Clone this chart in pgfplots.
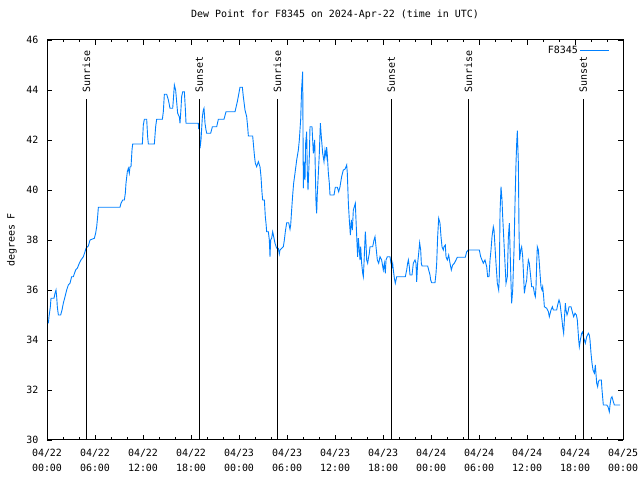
\documentclass[border=0pt]{standalone}
\usepackage{fontspec}
\setmainfont{DejaVu Sans Mono}
\usepackage{pgfplots}
\pgfplotsset{compat=1.18}
\definecolor{dpblue}{RGB}{0,128,255}
\begin{document}
\begin{tikzpicture}[x=1bp,y=1bp]
\path[use as bounding box] (0,0) rectangle (640,480);
\begin{axis}[
  at={(47bp,40bp)}, anchor=south west,
  scale only axis, width=576bp, height=400bp,
  xmin=0, xmax=72, ymin=30, ymax=46,
  xtick={0,6,...,72},
  minor xtick={2,4,8,10,14,16,20,22,26,28,32,34,38,40,44,46,50,52,56,58,62,64,68,70},
  xticklabels={{04/22\\00:00},{04/22\\06:00},{04/22\\12:00},{04/22\\18:00},{04/23\\00:00},{04/23\\06:00},{04/23\\12:00},{04/23\\18:00},{04/24\\00:00},{04/24\\06:00},{04/24\\12:00},{04/24\\18:00},{04/25\\00:00}},
  ytick={30,32,...,46},
  /pgf/number format/assume math mode=true,
  tick label style={font=\fontsize{10}{15}\selectfont},
  xticklabel style={align=center, yshift=-6bp},
  yticklabel style={xshift=-5bp},
  major tick length=5bp, minor tick length=2.5bp,
  tick style={black, line width=0.8bp},
  axis line style={black, line width=1bp},
  ylabel={degrees F},
  ylabel style={at={(axis description cs:-0.0608,0.5)}, anchor=center, font=\fontsize{10}{12}\selectfont},
  title={Dew Point for F8345 on 2024-Apr-22 (time in UTC)},
  title style={at={(axis description cs:0.5,1)}, anchor=base, yshift=17bp, font=\fontsize{10}{12}\selectfont},
  legend plot pos=right,
  legend style={draw=none, fill=none, at={(axis description cs:1,1)}, anchor=north east, xshift=-10bp, yshift=-2bp, font=\fontsize{10}{12}\selectfont},
  legend image code/.code={\draw[#1] (0bp,0bp) -- (29bp,0bp);},
  clip=false,
]
\addplot[dpblue, line width=0.9bp] coordinates {
(0.17,34.67) (0.25,34.93) (0.42,35.33) (0.5,35.67) (0.875,35.67) (1.0,35.87) (1.125,36.0) (1.21,35.73) (1.29,35.33) (1.42,35.0) (1.71,35.0) (1.875,35.2) (2.04,35.47) (2.25,35.73) (2.46,36.0) (2.67,36.2) (2.875,36.27) (3.08,36.53) (3.29,36.53) (3.58,36.8) (3.79,36.87) (4.04,37.07) (4.25,37.2) (4.54,37.33) (4.75,37.53) (4.875,37.67) (5.17,37.76) (5.375,38.0) (5.92,38.07) (6.08,38.27) (6.21,38.53) (6.33,38.93) (6.42,39.31) (9.125,39.31) (9.25,39.47) (9.46,39.6) (9.67,39.6) (9.79,39.87) (9.875,40.27) (10.04,40.73) (10.17,40.87) (10.29,40.67) (10.375,40.93) (10.5,40.93) (10.625,41.6) (10.71,41.84) (11.92,41.84) (12.04,42.6) (12.17,42.83) (12.46,42.83) (12.58,42.13) (12.67,41.84) (13.42,41.84) (13.58,42.53) (13.71,42.83) (14.42,42.83) (14.54,43.13) (14.67,43.83) (14.96,43.83) (15.17,43.6) (15.375,43.27) (15.71,43.27) (15.79,43.6) (15.92,44.2) (16.08,44.0) (16.33,43.07) (16.54,42.93) (16.625,42.67) (16.75,43.27) (16.83,43.73) (16.96,43.93) (17.17,43.93) (17.29,43.27) (17.375,42.67) (18.92,42.67) (18.96,42.44) (19.04,42.67) (19.125,41.67) (19.25,42.0) (19.42,42.93) (19.54,43.2) (19.625,43.27) (19.75,42.67) (19.875,42.4) (19.96,42.27) (20.46,42.27) (20.67,42.53) (21.21,42.53) (21.42,42.83) (22.125,42.83) (22.375,43.13) (23.5,43.13) (23.79,43.53) (24.125,44.11) (24.42,44.11) (24.54,43.73) (24.75,43.2) (24.96,42.93) (25.08,42.53) (25.17,42.16) (25.71,42.16) (25.79,41.87) (25.92,41.4) (26.04,41.07) (26.21,40.93) (26.42,41.13) (26.625,40.93) (26.75,40.53) (26.875,39.89) (26.96,39.6) (27.17,39.6) (27.29,38.93) (27.375,38.67) (27.46,38.33) (27.67,38.33) (27.79,38.0) (27.875,37.33) (27.96,38.0) (28.08,38.07) (28.21,38.33) (28.375,38.07) (28.5,37.87) (28.71,37.67) (28.92,37.67) (29.04,37.44) (29.125,37.6) (29.33,37.67) (29.54,37.73) (29.67,38.0) (29.79,38.33) (29.96,38.69) (30.21,38.69) (30.375,38.43) (30.46,38.6) (30.58,39.2) (30.71,39.8) (30.83,40.27) (31.0,40.67) (31.21,41.2) (31.42,41.6) (31.54,42.0) (31.71,42.83) (31.83,44.07) (31.96,44.73) (32.04,40.07) (32.125,41.13) (32.25,40.4) (32.33,41.87) (32.46,42.33) (32.54,40.67) (32.625,40.0) (32.79,41.33) (32.875,42.53) (33.125,42.53) (33.29,41.47) (33.46,42.0) (33.625,39.47) (33.71,39.07) (33.79,39.87) (33.92,40.67) (34.04,41.47) (34.17,42.67) (34.29,42.13) (34.46,41.47) (34.625,41.13) (34.75,41.6) (34.875,41.33) (34.96,41.71) (35.04,41.4) (35.17,40.67) (35.29,40.27) (35.375,39.8) (35.875,39.8) (36.04,40.11) (36.29,40.11) (36.46,39.93) (36.625,40.13) (36.83,40.53) (37.04,40.8) (37.25,40.83) (37.46,41.0) (37.54,40.67) (37.67,39.47) (37.79,38.8) (37.92,38.2) (38.04,38.8) (38.17,38.4) (38.29,39.2) (38.42,39.33) (38.54,39.47) (38.625,38.8) (38.75,37.87) (38.83,37.33) (38.92,38.07) (39.04,37.6) (39.125,37.2) (39.21,37.73) (39.33,37.07) (39.46,36.67) (39.54,36.53) (39.625,37.07) (39.71,37.73) (39.79,38.33) (39.875,37.87) (39.96,37.2) (40.08,37.07) (40.21,37.33) (40.29,37.47) (40.375,37.73) (40.71,37.73) (40.875,38.0) (41.0,38.13) (41.125,37.73) (41.29,37.2) (41.46,37.07) (41.625,37.33) (41.83,37.2) (42.04,36.8) (42.17,37.07) (42.29,36.67) (42.375,37.2) (42.54,37.33) (42.875,37.33) (43.0,37.07) (43.125,36.93) (43.21,37.07) (43.29,36.8) (43.42,36.47) (43.54,36.27) (43.71,36.53) (44.79,36.53) (44.96,36.8) (45.08,37.07) (45.17,37.2) (45.29,36.93) (45.375,36.6) (45.625,36.6) (45.79,37.07) (46.0,37.2) (46.125,37.07) (46.21,36.33) (46.33,37.07) (46.46,37.47) (46.58,37.89) (46.71,37.6) (46.79,37.07) (46.875,36.96) (47.58,36.96) (47.71,36.8) (47.875,36.6) (47.96,36.4) (48.08,36.29) (48.5,36.29) (48.625,36.67) (48.71,37.07) (48.83,38.13) (48.96,38.87) (49.125,38.67) (49.25,38.13) (49.375,37.73) (49.54,37.6) (49.625,37.73) (49.79,37.8) (49.875,37.33) (50.04,37.2) (50.21,37.4) (50.375,37.07) (50.54,36.8) (50.71,37.0) (50.92,37.07) (51.125,37.2) (51.29,37.31) (52.29,37.31) (52.46,37.53) (52.67,37.6) (54.04,37.6) (54.21,37.33) (54.375,37.2) (54.54,37.07) (54.75,37.2) (54.96,36.93) (55.08,36.53) (55.25,36.53) (55.375,37.2) (55.5,37.6) (55.625,38.13) (55.79,38.53) (55.875,38.4) (56.0,37.73) (56.125,37.07) (56.29,36.27) (56.46,36.0) (56.54,36.53) (56.625,39.07) (56.75,40.13) (56.875,39.6) (56.96,38.93) (57.125,37.87) (57.25,37.07) (57.375,36.27) (57.54,36.53) (57.67,38.13) (57.79,38.67) (57.875,37.73) (58.0,36.27) (58.08,35.47) (58.21,36.0) (58.29,36.8) (58.375,37.6) (58.5,39.47) (58.625,41.07) (58.71,41.87) (58.79,42.37) (58.92,41.07) (59.0,38.4) (59.08,37.2) (59.21,37.6) (59.33,37.73) (59.46,37.33) (59.58,36.53) (59.67,35.87) (59.79,36.13) (59.96,36.4) (60.04,36.8) (60.17,37.2) (60.29,37.07) (60.46,36.53) (60.58,36.13) (60.79,36.13) (60.92,35.87) (61.04,35.73) (61.125,36.13) (61.21,37.07) (61.29,37.73) (61.42,37.6) (61.54,37.07) (61.625,36.67) (61.75,36.13) (61.875,36.0) (61.96,36.13) (62.08,35.73) (62.17,35.33) (62.46,35.27) (62.67,35.13) (62.79,34.93) (63.0,35.2) (63.17,35.33) (63.29,35.2) (63.71,35.2) (63.83,35.4) (64.0,35.6) (64.125,35.47) (64.25,35.13) (64.375,34.8) (64.46,34.53) (64.58,34.27) (64.67,34.8) (64.79,35.47) (64.875,35.2) (65.0,35.0) (65.125,35.13) (65.25,35.33) (65.5,35.33) (65.71,35.07) (65.83,34.93) (66.0,35.07) (66.17,35.0) (66.29,34.8) (66.46,34.0) (66.54,33.73) (66.67,34.0) (66.83,34.27) (66.96,34.33) (67.04,34.13) (67.17,34.0) (67.29,33.87) (67.46,34.13) (67.67,34.27) (67.79,34.2) (67.875,34.0) (68.0,33.47) (68.125,33.07) (68.25,32.8) (68.42,32.67) (68.54,33.0) (68.71,32.27) (68.83,32.13) (68.92,32.33) (69.04,32.4) (69.29,32.4) (69.375,32.0) (69.54,31.4) (69.96,31.4) (70.125,31.33) (70.29,31.13) (70.375,31.4) (70.5,31.67) (70.625,31.73) (70.79,31.53) (70.92,31.4) (71.625,31.4)
};
\addlegendentry{F8345}
\addplot[black, line width=1bp, forget plot] coordinates {(4.92,30) (4.92,43.64)};
\addplot[black, line width=1bp, forget plot] coordinates {(19.04,30) (19.04,43.64)};
\addplot[black, line width=1bp, forget plot] coordinates {(28.8,30) (28.8,43.64)};
\addplot[black, line width=1bp, forget plot] coordinates {(43.04,30) (43.04,43.64)};
\addplot[black, line width=1bp, forget plot] coordinates {(52.67,30) (52.67,43.64)};
\addplot[black, line width=1bp, forget plot] coordinates {(67.04,30) (67.04,43.64)};
\node[rotate=90, anchor=west, inner sep=0pt, font=\fontsize{10}{12}\selectfont] at (axis cs:4.92,43.88) {Sunrise};
\node[rotate=90, anchor=west, inner sep=0pt, font=\fontsize{10}{12}\selectfont] at (axis cs:19.04,43.88) {Sunset};
\node[rotate=90, anchor=west, inner sep=0pt, font=\fontsize{10}{12}\selectfont] at (axis cs:28.8,43.88) {Sunrise};
\node[rotate=90, anchor=west, inner sep=0pt, font=\fontsize{10}{12}\selectfont] at (axis cs:43.04,43.88) {Sunset};
\node[rotate=90, anchor=west, inner sep=0pt, font=\fontsize{10}{12}\selectfont] at (axis cs:52.67,43.88) {Sunrise};
\node[rotate=90, anchor=west, inner sep=0pt, font=\fontsize{10}{12}\selectfont] at (axis cs:67.04,43.88) {Sunset};
\end{axis}
\end{tikzpicture}
\end{document}
